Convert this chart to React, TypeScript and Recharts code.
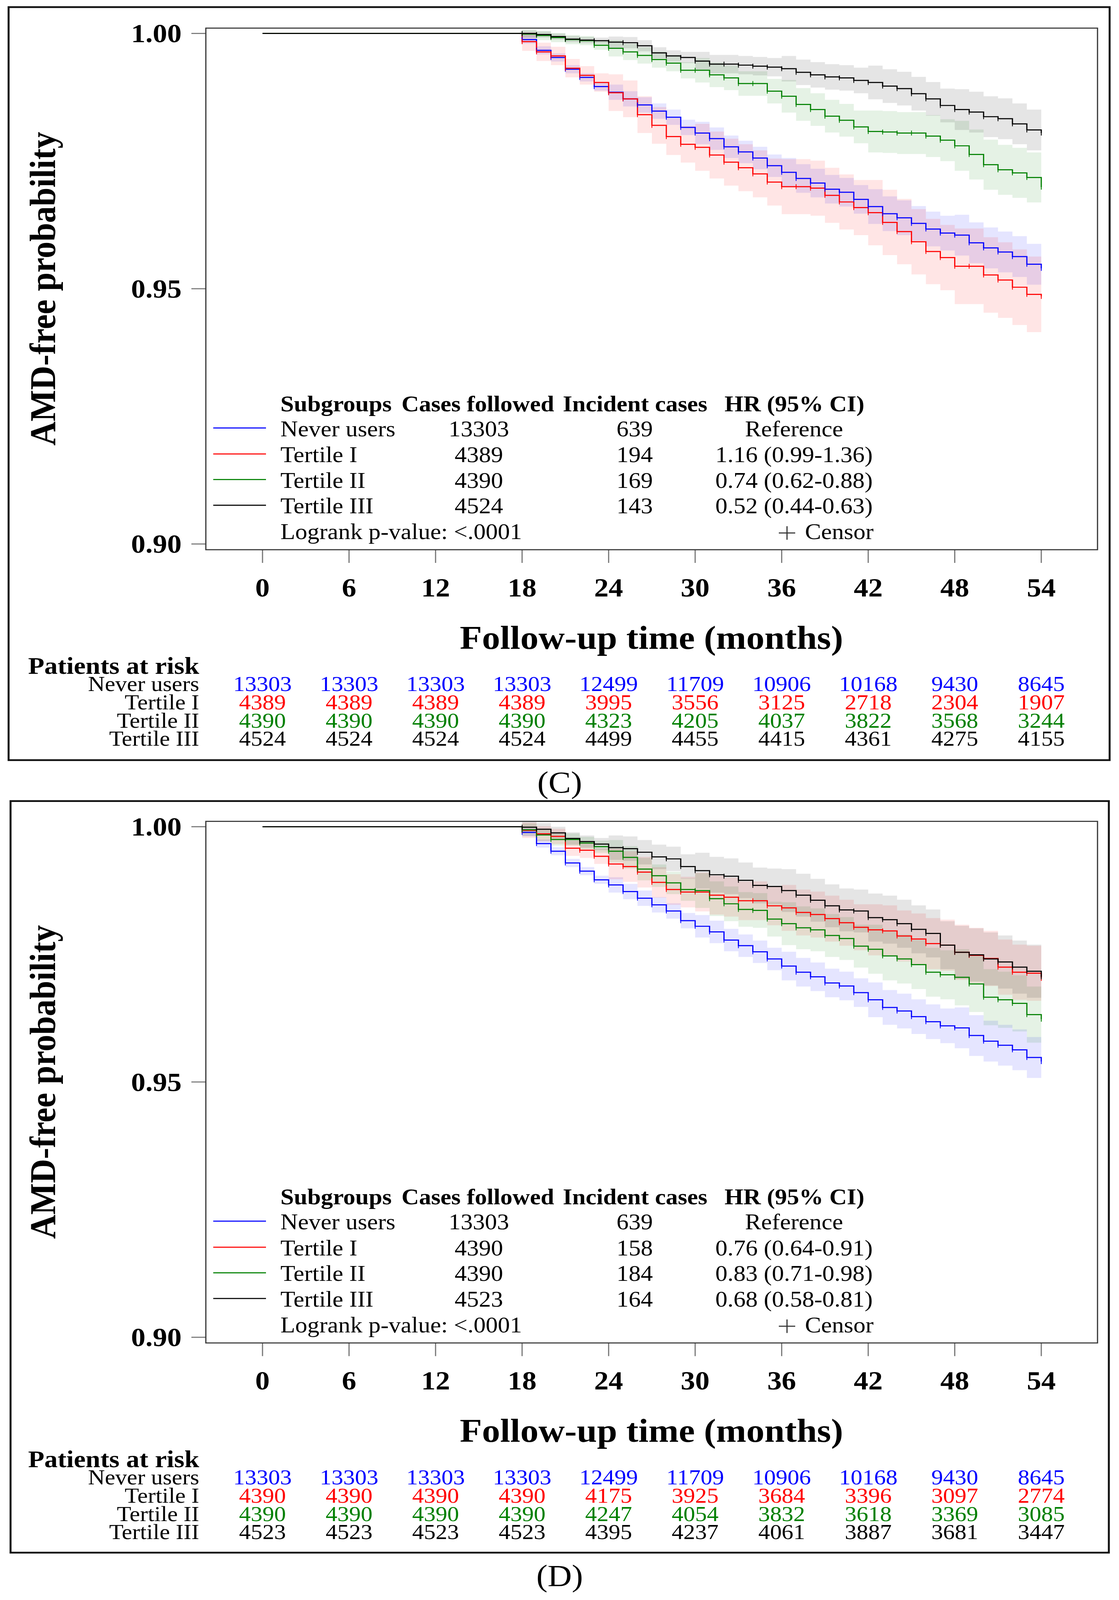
import React from "react";
import { Area, ComposedChart, Line, XAxis, YAxis } from "recharts";

const SERIF = "'Liberation Serif', 'Times New Roman', serif";
const W = 2865;
const H = 4494;
const PH = 2228;

// follow-up months where the curves have a value (0 then one step per month)
const months = [
  0, 18, 19, 20, 21, 22, 23, 24, 25, 26, 27, 28, 29, 30, 31, 32, 33, 34, 35, 36,
  37, 38, 39, 40, 41, 42, 43, 44, 45, 46, 47, 48, 49, 50, 51, 52, 53, 54,
];
const xTicks = [0, 6, 12, 18, 24, 30, 36, 42, 48, 54];
const yTicks = [0.9, 0.95, 1.0];
const groups = ["Never users", "Tertile I", "Tertile II", "Tertile III"];
const groupColors = ["#0000ff", "#ff0000", "#008000", "#000000"];
// CI half width is read per 6-month block starting at these months
const ciBlockStarts = [18, 24, 30, 36, 42, 48];

// ---- panel C ----
const neverC = [
  1, 0.9988, 0.9967, 0.9953, 0.993, 0.9914, 0.9896, 0.9885, 0.9872, 0.986, 0.9848,
  0.9836, 0.9816, 0.9805, 0.9794, 0.9778, 0.9768, 0.9756, 0.9741, 0.9728, 0.9716,
  0.9707, 0.9695, 0.9689, 0.9675, 0.9661, 0.9647, 0.9639, 0.9628, 0.9617, 0.9609,
  0.9605, 0.959, 0.958, 0.9572, 0.9563, 0.9548, 0.954,
];
const t1C = [
  1, 0.9984, 0.9964, 0.9956, 0.9932, 0.9918, 0.9904, 0.9884, 0.9872, 0.9841, 0.982,
  0.9798, 0.9783, 0.9777, 0.9762, 0.9748, 0.9737, 0.9725, 0.9709, 0.97, 0.97,
  0.9697, 0.9683, 0.967, 0.9659, 0.9649, 0.963, 0.9612, 0.9592, 0.9573, 0.9561,
  0.9544, 0.9544, 0.9527, 0.9517, 0.9503, 0.9489, 0.9485,
];
const t2C = [
  1, 0.9999, 0.9996, 0.9992, 0.9988, 0.9986, 0.9977, 0.9971, 0.9964, 0.9957, 0.9949,
  0.9942, 0.9928, 0.9928, 0.9919, 0.9913, 0.9902, 0.9902, 0.9887, 0.9877, 0.9861,
  0.9851, 0.9838, 0.983, 0.9817, 0.9808, 0.9807, 0.9805, 0.9805, 0.9799, 0.9791,
  0.978, 0.9763, 0.9743, 0.9733, 0.9727, 0.9718, 0.9699,
];
const t3C = [
  1, 1.0, 0.9998, 0.9994, 0.9989, 0.9987, 0.9986, 0.9983, 0.9982, 0.9976, 0.9962,
  0.9956, 0.9953, 0.9946, 0.994, 0.994, 0.9938, 0.9936, 0.9934, 0.9931, 0.9924,
  0.9919, 0.9915, 0.9913, 0.9908, 0.9904, 0.9897, 0.9892, 0.9882, 0.9872, 0.9859,
  0.9851, 0.9846, 0.9837, 0.9833, 0.9823, 0.9811, 0.9805,
];
const halfC = [
  [0.0008, 0.0015, 0.0022, 0.0028, 0.0034, 0.004],
  [0.0018, 0.0036, 0.0046, 0.0054, 0.0064, 0.0074],
  [0.0009, 0.0016, 0.0024, 0.0032, 0.0041, 0.0049],
  [0.0006, 0.0011, 0.0018, 0.0025, 0.0033, 0.004],
];
const casesC = ["13303", "4389", "4390", "4524"];
const incidentC = ["639", "194", "169", "143"];
const hrC = ["Reference", "1.16 (0.99-1.36)", "0.74 (0.62-0.88)", "0.52 (0.44-0.63)"];
const riskC = [
  [13303, 13303, 13303, 13303, 12499, 11709, 10906, 10168, 9430, 8645],
  [4389, 4389, 4389, 4389, 3995, 3556, 3125, 2718, 2304, 1907],
  [4390, 4390, 4390, 4390, 4323, 4205, 4037, 3822, 3568, 3244],
  [4524, 4524, 4524, 4524, 4499, 4455, 4415, 4361, 4275, 4155],
];

// ---- panel D ----
const neverD = [
  1, 0.9989, 0.9967, 0.9952, 0.9929, 0.9913, 0.9896, 0.9886, 0.9873, 0.986, 0.9847,
  0.9835, 0.9816, 0.9805, 0.9794, 0.9778, 0.9767, 0.9755, 0.9741, 0.9727, 0.9715,
  0.9706, 0.9694, 0.9688, 0.9675, 0.9661, 0.9646, 0.9639, 0.9628, 0.9618, 0.961,
  0.9606, 0.9591, 0.958, 0.9572, 0.9563, 0.9548, 0.954,
];
const t1D = [
  1, 0.9993, 0.9986, 0.9981, 0.9958, 0.9954, 0.9942, 0.9927, 0.9922, 0.9911, 0.9891,
  0.9877, 0.9872, 0.9872, 0.9866, 0.9862, 0.9855, 0.9855, 0.9845, 0.9841, 0.9832,
  0.9828, 0.982, 0.9812, 0.9803, 0.9798, 0.9796, 0.9786, 0.978, 0.9771, 0.9768,
  0.9754, 0.9748, 0.9742, 0.9725, 0.9715, 0.9713, 0.9703,
];
const t2D = [
  1, 0.9994, 0.9984, 0.9975, 0.9975, 0.9968, 0.9961, 0.9952, 0.994, 0.9917, 0.9904,
  0.989, 0.9877, 0.9875, 0.9859, 0.9849, 0.9838, 0.9836, 0.9819, 0.981, 0.9802,
  0.9798, 0.9787, 0.9781, 0.9766, 0.976, 0.9747, 0.9741, 0.973, 0.9715, 0.971,
  0.9705, 0.9692, 0.9666, 0.9661, 0.9654, 0.9632, 0.9623,
];
const t3D = [
  1, 0.9999, 0.9995, 0.9988, 0.9977, 0.9971, 0.9966, 0.9959, 0.9957, 0.995, 0.9941,
  0.9937, 0.9922, 0.9914, 0.9906, 0.9903, 0.9895, 0.9885, 0.9883, 0.9875, 0.9866,
  0.9856, 0.9845, 0.9837, 0.9835, 0.9822, 0.9818, 0.981, 0.9799, 0.9791, 0.9768,
  0.9754, 0.9749, 0.9741, 0.9735, 0.9725, 0.9717, 0.9706,
];
const halfD = [
  [0.0008, 0.0015, 0.0022, 0.0028, 0.0034, 0.004],
  [0.0015, 0.003, 0.0038, 0.0045, 0.005, 0.0054],
  [0.0012, 0.0022, 0.0034, 0.0042, 0.0048, 0.0055],
  [0.0012, 0.0024, 0.0035, 0.0042, 0.0047, 0.0052],
];
const casesD = ["13303", "4390", "4390", "4523"];
const incidentD = ["639", "158", "184", "164"];
const hrD = ["Reference", "0.76 (0.64-0.91)", "0.83 (0.71-0.98)", "0.68 (0.58-0.81)"];
const riskD = [
  [13303, 13303, 13303, 13303, 12499, 11709, 10906, 10168, 9430, 8645],
  [4390, 4390, 4390, 4390, 4175, 3925, 3684, 3396, 3097, 2774],
  [4390, 4390, 4390, 4390, 4247, 4054, 3832, 3618, 3369, 3085],
  [4523, 4523, 4523, 4523, 4395, 4237, 4061, 3887, 3681, 3447],
];

function blockOf(t: number) {
  let b = -1;
  ciBlockStarts.forEach((s, i) => {
    if (t >= s) b = i;
  });
  return b;
}

function buildRows(series: number[][], half: number[][]) {
  return months.map((t, i) => {
    const row: any = { t };
    const b = blockOf(t);
    series.forEach((s, k) => {
      const h = b < 0 ? 0 : half[k][b];
      row[`s${k}`] = s[i];
      row[`b${k}`] = [s[i] - h, s[i] + h];
    });
    return row;
  });
}

const riskY = [1941, 1993, 2044, 2095];
const legendY = [1225, 1298, 1370, 1442];

function XTick(props: any) {
  const { x, y, payload, risk } = props;
  const i = xTicks.indexOf(payload.value);
  return (
    <g fontFamily={SERIF}>
      <text x={x} y={y + 94} textAnchor="middle" fontWeight="bold" fontSize={74} fill="#000">
        {payload.value}
      </text>
      {risk.map((row: number[], k: number) => (
        <text key={k} x={x} y={riskY[k]} textAnchor="middle" fontSize={60} fill={groupColors[k]}>
          {row[i]}
        </text>
      ))}
    </g>
  );
}

function YTick(props: any) {
  const { x, y, payload } = props;
  return (
    <text x={x} y={y + 25} textAnchor="end" fontWeight="bold" fontSize={74} fontFamily={SERIF} fill="#000">
      {Number(payload.value).toFixed(2)}
    </text>
  );
}

type PanelProps = {
  top: number;
  series: number[][];
  half: number[][];
  cases: string[];
  incident: string[];
  hr: string[];
  risk: number[][];
  label: string;
  frame: { x: number; y: number; w: number; h: number };
};

function Panel({ top, series, half, cases, incident, hr, risk, label, frame }: PanelProps) {
  const data = buildRows(series, half);
  return (
    <div style={{ position: "absolute", left: 0, top, width: W, height: PH }}>
      <ComposedChart width={W} height={PH} data={data} margin={{ top: 79, right: 55, left: 227, bottom: 584 }}>
        <XAxis
          dataKey="t"
          type="number"
          domain={[-3.93, 57.9]}
          allowDataOverflow
          ticks={xTicks}
          interval={0}
          height={100}
          tickSize={37}
          tickMargin={0}
          axisLine={false}
          tickLine={{ stroke: "#777", strokeWidth: 3 }}
          tick={(p: any) => <XTick {...p} risk={risk} />}
        />
        <YAxis
          type="number"
          domain={[0.89888, 1.00105]}
          allowDataOverflow
          ticks={yTicks}
          interval={0}
          width={300}
          tickSize={37}
          tickMargin={25}
          axisLine={false}
          tickLine={{ stroke: "#777", strokeWidth: 3 }}
          tick={(p: any) => <YTick {...p} />}
        />
        {series.map((_, k) => (
          <Area
            key={`a${k}`}
            dataKey={`b${k}`}
            type="stepAfter"
            stroke="none"
            fill={groupColors[k]}
            fillOpacity={0.1}
            isAnimationActive={false}
            activeDot={false}
          />
        ))}
        {series.map((_, k) => (
          <Line
            key={`l${k}`}
            dataKey={`s${k}`}
            type="stepAfter"
            stroke={groupColors[k]}
            strokeWidth={3}
            isAnimationActive={false}
            activeDot={false}
            dot={(p: any) =>
              p.index === 0 ? (
                <g key={`d${k}-${p.index}`} />
              ) : (
                <line
                  key={`d${k}-${p.index}`}
                  x1={p.cx}
                  x2={p.cx}
                  y1={p.cy - 7}
                  y2={p.cy + 7}
                  stroke={groupColors[k]}
                  strokeWidth={2}
                />
              )
            }
          />
        ))}
      </ComposedChart>
      <svg
        width={W}
        height={PH}
        style={{ position: "absolute", left: 0, top: 0, overflow: "visible", pointerEvents: "none" }}
        fontFamily={SERIF}
      >
        <rect x={frame.x} y={frame.y} width={frame.w} height={frame.h} fill="none" stroke="#111" strokeWidth={5} />
        <rect x={527} y={79} width={2283} height={1465} fill="none" stroke="#333" strokeWidth={3} />
        <text transform="translate(141,811) rotate(-90)" textAnchor="middle" fontWeight="bold" fontSize={94}>
          AMD-free probability
        </text>
        <text x={1668} y={1822} textAnchor="middle" fontWeight="bold" fontSize={93}>
          Follow-up time (months)
        </text>

        {/* legend table */}
        <g fontSize={62}>
          <text x={718} y={1155} fontWeight="bold">Subgroups</text>
          <text x={1028} y={1155} fontWeight="bold">Cases followed</text>
          <text x={1441} y={1155} fontWeight="bold">Incident cases</text>
          <text x={1855} y={1155} fontWeight="bold">HR (95% CI)</text>
          {groups.map((g, k) => (
            <g key={g}>
              <line x1={546} x2={681} y1={legendY[k] - 23} y2={legendY[k] - 23} stroke={groupColors[k]} strokeWidth={3} />
              <text x={718} y={legendY[k]}>{g}</text>
              <text x={1226} y={legendY[k]} textAnchor="middle">{cases[k]}</text>
              <text x={1625} y={legendY[k]} textAnchor="middle">{incident[k]}</text>
              <text x={2033} y={legendY[k]} textAnchor="middle">{hr[k]}</text>
            </g>
          ))}
          <text x={718} y={1514}>Logrank p-value: &lt;.0001</text>
          <line x1={2015} x2={2015} y1={1478} y2={1516} stroke="#333" strokeWidth={3} />
          <line x1={1994} x2={2036} y1={1497} y2={1497} stroke="#333" strokeWidth={3} />
          <text x={2061} y={1514}>Censor</text>
        </g>

        {/* patients at risk labels */}
        <text x={510} y={1893} textAnchor="end" fontWeight="bold" fontSize={68}>
          Patients at risk
        </text>
        {groups.map((g, k) => (
          <text key={g} x={510} y={riskY[k]} textAnchor="end" fontSize={60}>
            {g}
          </text>
        ))}

        <text x={1433} y={2226} textAnchor="middle" fontSize={86}>
          {label}
        </text>
      </svg>
    </div>
  );
}

export default function App() {
  // the browser viewport is capped below the asked height, so squeeze the figure
  // vertically to keep the whole of both panels inside the photographed page
  const vh = typeof window !== "undefined" && window.innerHeight ? window.innerHeight : H;
  const sy = Math.min(1, vh / H);
  return (
    <div style={{ position: "relative", width: W, height: Math.floor(H * sy), margin: -8, background: "#fff", overflow: "hidden" }}>
      <div style={{ position: "absolute", left: 0, top: 0, width: W, height: H, transform: `scale(1, ${sy})`, transformOrigin: "0 0" }}>
        <Panel
          top={0}
          series={[neverC, t1C, t2C, t3C]}
          half={halfC}
          cases={casesC}
          incident={incidentC}
          hr={hrC}
          risk={riskC}
          label="(C)"
          frame={{ x: 22, y: 20, w: 2819, h: 2115 }}
        />
        <Panel
          top={2228}
          series={[neverD, t1D, t2D, t3D]}
          half={halfD}
          cases={casesD}
          incident={incidentD}
          hr={hrD}
          risk={riskD}
          label="(D)"
          frame={{ x: 27, y: 22, w: 2812, h: 2111 }}
        />
      </div>
    </div>
  );
}
